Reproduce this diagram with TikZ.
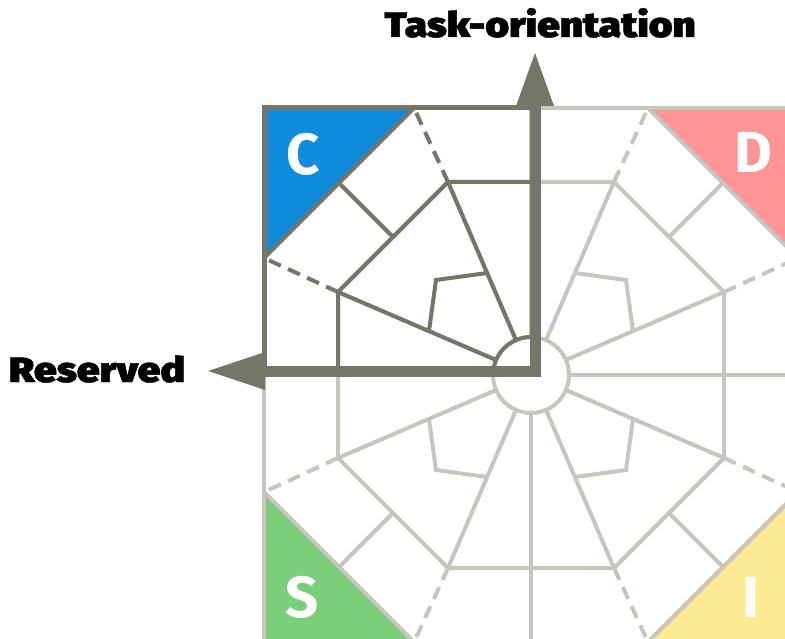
\documentclass[tikz,border=0pt]{standalone}
\usepackage{fontspec}
\IfFontExistsTF{Fira Sans Black}{\newfontfamily\heavyfont{Fira Sans Black}[FakeBold=1.2]}{\newfontfamily\heavyfont{Liberation Sans Bold}[FakeBold=2]}
\newfontfamily\letterfont{Fira Sans}
\definecolor{darkol}{RGB}{118,118,104}
\definecolor{lightg}{RGB}{198,198,188}
\definecolor{cblue}{RGB}{16,140,222}
\definecolor{dpink}{RGB}{255,148,150}
\definecolor{sgreen}{RGB}{122,206,122}
\definecolor{iyellow}{RGB}{252,236,150}
\tikzset{
  lightline/.style={draw=lightg, line width=4pt, line cap=butt, line join=miter},
  darkline/.style={draw=darkol, line width=4pt, line cap=butt, line join=miter},
  dashline/.style={dash pattern=on 13pt off 8pt},
  axislabel/.style={font=\heavyfont\fontsize{35}{35}\selectfont, inner sep=0pt, anchor=base},
  letter/.style={font=\letterfont\bfseries\fontsize{58}{58}\selectfont, text=white, inner sep=0pt}
}
\begin{document}
\begin{tikzpicture}[x=1pt,y=-1pt]
\useasboundingbox (0,0) rectangle (785,639);
\clip (0,0) rectangle (785,639);
% centre and octagon vertices
\coordinate (O) at (531,375);
\coordinate (A1) at (448,182); \coordinate (A2) at (338,292);
\coordinate (B1) at (614,182); \coordinate (B2) at (724,292);
\coordinate (C1) at (338,458); \coordinate (C2) at (448,568);
\coordinate (D1) at (724,458); \coordinate (D2) at (614,568);
% square corner triangle vertices
\coordinate (tc1) at (414,108); \coordinate (tc2) at (264,258);
\coordinate (td1) at (648,108); \coordinate (td2) at (798,258);
\coordinate (ts1) at (264,492); \coordinate (ts2) at (414,642);
\coordinate (ti1) at (798,492); \coordinate (ti2) at (648,642);
% triangles
\fill[cblue] (264,108) -- (tc1) -- (tc2) -- cycle;
\fill[dpink] (798,108) -- (td1) -- (td2) -- cycle;
\fill[sgreen] (264,642) -- (ts1) -- (ts2) -- cycle;
\fill[iyellow] (798,642) -- (ti1) -- (ti2) -- cycle;
% light structure
\draw[lightline] (264,108) rectangle (798,642);
\draw[lightline] (td1) -- (td2) (ts1) -- (ts2) (ti1) -- (ti2);
\draw[lightline] (531,108) -- (531,642) (264,375) -- (798,375);
\foreach \v in {A1,A2,B1,B2,C1,C2,D1,D2} \draw[lightline] (O) -- (\v);
\draw[lightline] (A1) -- (B1) -- (B2) -- (D1) -- (D2) -- (C2) -- (C1) -- (A2) -- cycle;
\draw[lightline, dashline] (B1) -- (td1) (B2) -- (td2) (C1) -- (ts1) (C2) -- (ts2) (D1) -- (ti1) (D2) -- (ti2);
\draw[lightline] (723,183) -- (669,237);
\draw[lightline] (339,567) -- (393,513);
\draw[lightline] (723,567) -- (669,513);
% pentagon brackets
\draw[lightline] (575,273) -- (626,280) -- (633,331);
\draw[lightline] (429,419) -- (436,470) -- (487,477);
\draw[lightline] (633,419) -- (626,470) -- (575,477);
% centre circle
\draw[lightline, fill=white] (O) circle[radius=38];
% dark quadrant (C)
\draw[darkline] (tc1) -- (tc2);
\draw[darkline, line width=5pt] (538,108) -- (264,108) -- (264,371);
\draw[darkline, shorten <=38pt] (O) -- (A1);
\draw[darkline, shorten <=38pt] (O) -- (A2);
\draw[darkline] (531,182) -- (A1) -- (A2) -- (338,375);
\draw[darkline, dashline] (A1) -- (tc1) (A2) -- (tc2);
\draw[darkline] (339,183) -- (393,237);
\draw[darkline] (487,273) -- (436,280) -- (429,331);
\draw[darkline] (O) ++(180:38) arc[start angle=180, end angle=270, radius=38];
% thick axes with arrowheads
\draw[draw=darkol, line width=11pt, line join=miter] (263,371) -- (535,371) -- (535,104);
\fill[darkol] (516,106) -- (535,53) -- (554,106) -- cycle;
\fill[darkol] (265,352) -- (208,371) -- (265,390) -- cycle;
% labels
\node[axislabel] (task) at (540,37) {\scalebox{1.16}[1]{Task-orientation}};
\node[axislabel] (res) at (97,382) {\scalebox{1.17}[1]{Reserved}};
\node[letter] (lc) at (303,154) {C};
\node[letter] (ld) at (753,152) {D};
\node[letter] (ls) at (302,597) {S};
\node[letter] (li) at (751,597) {I};
\end{tikzpicture}
\end{document}
